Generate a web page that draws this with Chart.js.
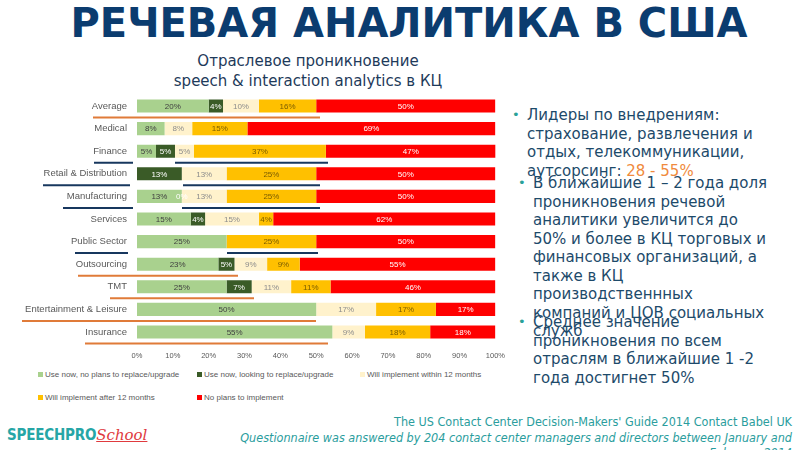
<!DOCTYPE html>
<html>
<head>
<meta charset="utf-8">
<script src="https://cdn.jsdelivr.net/npm/chart.js@4.4.1/dist/chart.umd.min.js"></script>
<style>
    html, body { margin: 0; padding: 0; background: #fff; }
    body { width: 800px; height: 450px; position: relative; overflow: hidden; font-family: "DejaVu Sans", sans-serif; }
    .abs { position: absolute; }
    #title { left: 0; width: 818px; top: 0px; text-align: center; font-weight: bold; font-size: 40px; color: #0b3c6f; }
    #subtitle { left: 108px; width: 400px; top: 51px; text-align: center; font-size: 15px; line-height: 20px; color: #1e3a5a; }
    .bullet { font-size: 15px; line-height: 18.5px; color: #1d4a6a; white-space: nowrap; }
    .bullet .dot { position: absolute; left: -15px; top: 0; color: #2aa198; font-size: 13px; }
    .orange { color: #f08a3c; }
    #legend { left: 0; top: 367px; width: 505px; height: 40px; font-family: "Liberation Sans", sans-serif; font-size: 8px; color: #595959; }
    .lg-item { position: absolute; white-space: nowrap; }
    .lg-box { display: inline-block; width: 5px; height: 5px; margin-right: 2px; vertical-align: 0px; }
    .foot { right: 8px; text-align: right; color: #2a9d9d; font-family: "DejaVu Sans Condensed", "Liberation Sans Narrow", "DejaVu Sans", sans-serif; font-stretch: condensed; font-size: 12.5px; white-space: nowrap; }
    #logo { left: 7px; top: 425px; white-space: nowrap; }
    #logo .sp { font-family: "DejaVu Sans Condensed", "DejaVu Sans", sans-serif; font-stretch: condensed; font-weight: bold; color: #26a6a6; font-size: 15px; letter-spacing: -0.2px; }
    #logo .sc { font-family: "DejaVu Serif", serif; font-style: italic; color: #e03a3e; font-size: 15px; text-decoration: underline; }
</style>
</head>
<body>
<div id="title" class="abs">РЕЧЕВАЯ АНАЛИТИКА В США</div>
<div id="subtitle" class="abs">Отраслевое проникновение<br>speech &amp; interaction analytics в КЦ</div>

<canvas id="chart" class="abs" width="505" height="279" style="left:0;top:87px;width:505px;height:279px"></canvas>
<div id="legend" class="abs"></div>

<div class="abs bullet" style="left:527px;top:106px"><span class="dot">•</span>Лидеры по внедрениям:<br>страхование, развлечения и<br>отдых, телекоммуникации,<br>аутсорсинг: <span class="orange">28 - 55%</span></div>
<div class="abs bullet" style="left:533px;top:174px"><span class="dot">•</span>В ближайшие 1 – 2 года доля<br>проникновения речевой<br>аналитики увеличится до<br>50% и более в КЦ торговых и<br>финансовых организаций, а<br>также в КЦ<br>производственнных<br>компаний и ЦОВ социальных<br>служб</div>
<div class="abs bullet" style="left:533px;top:313px"><span class="dot">•</span>Среднее значение<br>проникновения по всем<br>отраслям в ближайшие 1 -2<br>года достигнет 50%</div>

<div class="abs foot" style="top:414px">The US Contact Center Decision-Makers' Guide 2014 Contact Babel UK</div>
<div class="abs foot" style="top:430px;font-style:italic">Questionnaire was answered by 204 contact center managers and directors between January and</div>
<div class="abs foot" style="top:445px;font-style:italic">February 2014</div>
<div id="logo" class="abs"><span class="sp">SPEECHPRO</span><span class="sc">School</span></div>

<script>
const categories = ["Average", "Medical", "Finance", "Retail & Distribution", "Manufacturing", "Services",
    "Public Sector", "Outsourcing", "TMT", "Entertainment & Leisure", "Insurance"];

const seriesNames = ["Use now, no plans to replace/upgrade", "Use now, looking to replace/upgrade",
    "Will implement within 12 months", "Will implement after 12 months", "No plans to implement"];

// null = segment not present in that row
const useNoPlans = [20, 7.7, 5.3, null, 12.5, 15, 25, 22.7, 25, 50, 54.5];
const useLooking = [4, null, 5.3, 12.5, 0, 4, null, 4.5, 7, null, null];
const within12 = [10, 7.7, 5.3, 12.5, 12.5, 15, null, 9.1, 11, 16.7, 9.1];
const after12 = [16, 15.4, 36.8, 25, 25, 4, 25, 9.1, 11, 16.7, 18.2];
const noPlans = [50, 69.2, 47.4, 50, 50, 62, 50, 54.6, 46, 16.6, 18.2];

const xTicks = [0, 10, 20, 30, 40, 50, 60, 70, 80, 90, 100];

const fillColors = ["#a9d18e", "#3a5b27", "#fff2cc", "#ffc000", "#ff0000"];
const labelColors = ["#3f3f3f", "#ffffff", "#8c8c8c", "#7a5c00", "#ffffff"];

const orange = "#e07b39";
const navy = "#17375e";
// slide underlines: [category, color, from px, to px]
const underlines = [
    ["Average", orange, 93, 320],
    ["Finance", navy, 94, 133],
    ["Finance", navy, 175, 328],
    ["Retail & Distribution", navy, 43, 130],
    ["Retail & Distribution", navy, 183, 320],
    ["Manufacturing", navy, 63, 133],
    ["Manufacturing", navy, 182, 320],
    ["Public Sector", navy, 75, 128],
    ["Public Sector", navy, 227, 318],
    ["Outsourcing", orange, 78, 238],
    ["TMT", orange, 110, 254],
    ["Entertainment & Leisure", orange, 22, 316],
    ["Insurance", orange, 85, 328],
];

const seriesValues = [useNoPlans, useLooking, within12, after12, noPlans];

const barLabels = {
    id: "barLabels",
    afterDatasetsDraw(chart) {
        const ctx = chart.ctx;
        ctx.save();
        ctx.font = "8px 'Liberation Sans', sans-serif";
        ctx.textAlign = "center";
        ctx.textBaseline = "middle";
        chart.data.datasets.forEach((ds, i) => {
            const meta = chart.getDatasetMeta(i);
            meta.data.forEach((bar, j) => {
                const v = ds.data[j];
                if (v === null) {
                    return;
                }
                ctx.fillStyle = labelColors[i];
                ctx.fillText(Math.round(v) + "%", (bar.x + bar.base) / 2, bar.y + 0.5);
            });
        });
        ctx.restore();
    },
};

const slideLines = {
    id: "slideLines",
    afterDraw(chart) {
        const ctx = chart.ctx;
        const y = chart.scales.y;
        ctx.save();
        ctx.lineWidth = 2;
        underlines.forEach(([cat, color, x1, x2]) => {
            const py = y.getPixelForValue(categories.indexOf(cat)) + 11.5;
            ctx.strokeStyle = color;
            ctx.beginPath();
            ctx.moveTo(x1, py);
            ctx.lineTo(x2, py);
            ctx.stroke();
        });
        ctx.restore();
    },
};

new Chart(document.getElementById("chart"), {
    type: "bar",
    data: {
        labels: categories,
        datasets: seriesNames.map((name, i) => ({
            label: name,
            data: seriesValues[i],
            backgroundColor: fillColors[i],
            borderWidth: 0,
            barPercentage: 0.58,
            categoryPercentage: 1,
        })),
    },
    options: {
        indexAxis: "y",
        responsive: false,
        animation: false,
        layout: { padding: 0 },
        plugins: {
            legend: { display: false },
            tooltip: { enabled: false },
        },
        scales: {
            x: {
                stacked: true,
                min: 0,
                max: 100,
                afterBuildTicks: (scale) => {
                    scale.ticks = xTicks.map((v) => ({ value: v }));
                },
                afterFit: (scale) => {
                    scale.height = 22.7;
                },
                grid: { display: false },
                border: { display: false },
                ticks: {
                    padding: 0,
                    color: "#595959",
                    font: { family: "'Liberation Sans', sans-serif", size: 7.5 },
                    callback: (v) => v + "%",
                },
            },
            y: {
                stacked: true,
                afterFit: (scale) => {
                    scale.width = 137;
                },
                grid: { display: false },
                border: { display: false },
                ticks: {
                    padding: 2,
                    color: "#595959",
                    font: { family: "'Liberation Sans', sans-serif", size: 9.5 },
                },
            },
        },
    },
    plugins: [barLabels, slideLines],
});

// legend laid out like the slide: two rows, fixed columns
const legend = document.getElementById("legend");
const legendSlots = [[38, 3], [197, 3], [360, 3], [38, 26], [197, 26]];
seriesNames.forEach((name, i) => {
    const item = document.createElement("div");
    item.className = "lg-item";
    item.style.left = legendSlots[i][0] + "px";
    item.style.top = legendSlots[i][1] + "px";
    item.innerHTML = `<span class="lg-box" style="background:${fillColors[i]}"></span>${name}`;
    legend.appendChild(item);
});
</script>
</body>
</html>
